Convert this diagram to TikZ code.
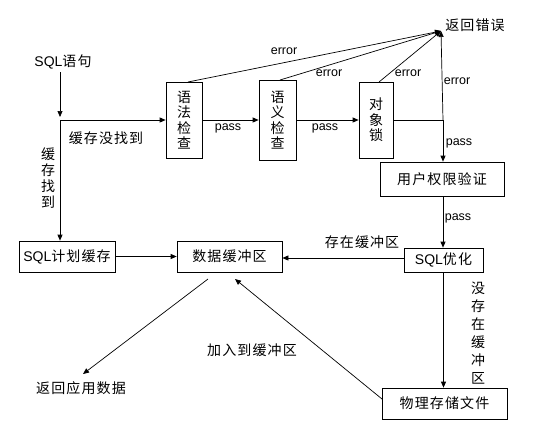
\documentclass[tikz,border=0pt]{standalone}
\usepackage{fontspec}
\setmainfont{Liberation Sans}
\newfontfamily\cjk{Noto Sans CJK SC}[LetterSpace=8]
\usetikzlibrary{arrows.meta,calc}
\begin{document}
\begin{tikzpicture}[x=1pt,y=-1pt,
  box/.style={draw,line width=0.7pt,inner sep=0pt,font=\cjk\fontsize{14}{15.5}\selectfont,align=center},
  lbl/.style={inner sep=0pt,font=\fontsize{12.5}{14}\selectfont},
  cl/.style={inner sep=0pt,font=\cjk\fontsize{14}{16}\selectfont,align=center},
  ln/.style={line width=0.7pt},
  arr/.style={line width=0.7pt,-{Triangle[length=6pt,width=5pt]}}]
\useasboundingbox (0,0) rectangle (535,440);
% boxes
\node[box,minimum width=36pt,minimum height=76pt] (yf) at (184,120) {语\\法\\检\\查};
\node[box,minimum width=37pt,minimum height=80pt] (yy) at (277.5,120) {语\\义\\检\\查};
\node[box,minimum width=34pt,minimum height=76pt] (dx) at (376,120) {对\\象\\锁};
\node[box,minimum width=124pt,minimum height=34pt] (qx) at (442,179) {用户权限验证};
\node[box,minimum width=79pt,minimum height=24pt] (yh) at (443.5,260) {{\fontspec{Liberation Sans}SQL}优化};
\node[box,minimum width=105pt,minimum height=31pt] (sj) at (229.5,256.5) {数据缓冲区};
\node[box,minimum width=96pt,minimum height=31pt] (jh) at (67,256.5) {{\fontspec{Liberation Sans}SQL}计划缓存};
\node[box,minimum width=125pt,minimum height=31pt] (wl) at (444.5,403.5) {物理存储文件};
% free texts
\node[cl] (sql) at (63,62) {{\fontspec{Liberation Sans}SQL}语句};
\node[cl] (err) at (475,25) {返回错误};
\node[cl] (ret) at (81,388) {返回应用数据};
% coordinates
\coordinate (sqlb) at (60,72);
\coordinate (split) at (60,120);
\coordinate (j) at (443,120);
\coordinate (ep) at (441,31);
\coordinate (yft) at (188,82);
\coordinate (yyt) at (280,80);
\coordinate (dxt) at (379,82);
\coordinate (wls) at (382,399);
\coordinate (sjin) at (235,279);
\coordinate (sjout) at (208,279);
\coordinate (rettip) at (83,374);
% connectors
\draw[arr,shorten >=3pt] (sqlb) -- (split);
\draw[arr] (split) -- (yf.west);
\draw[arr] (split) -- (split |- jh.north);
\draw[arr] (yf.east) -- (yy.west);
\draw[arr] (yy.east) -- (dx.west);
\draw[ln] (dx.east) -- (j);
\draw[arr] (j) -- (ep);
\draw[arr] (j) -- (j |- qx.north);
\draw[arr] (yft) -- (ep);
\draw[arr] (yyt) -- (ep);
\draw[arr] (dxt) -- (ep);
\draw[arr] (j |- qx.south) -- (j |- yh.north);
\draw[arr] ($(yh.west)+(0,-2)$) -- ($(yh.west -| sj.east)+(0,-2)$);
\draw[arr] (jh.east) -- (sj.west);
\draw[arr] (yh.south) -- (yh.south |- wl.north);
\draw[arr] (wls) -- (sjin);
\draw[arr] (sjout) -- (rettip);
% labels
\node[cl] (l1) at (106,138) {缓存没找到};
\node[cl,font=\cjk\fontsize{14}{15.7}\selectfont] (l2) at (48,178) {缓\\存\\找\\到};
\node[lbl] (p1) at (228,128) {pass};
\node[lbl] (p2) at (325,128) {pass};
\node[lbl] (e1) at (284,51) {error};
\node[lbl] (e2) at (329,73) {error};
\node[lbl] (e3) at (408,73) {error};
\node[lbl] (e4) at (457,81) {error};
\node[lbl] (p3) at (459,143) {pass};
\node[lbl] (p4) at (458,218) {pass};
\node[cl] (l3) at (362,242) {存在缓冲区};
\node[cl,font=\cjk\fontsize{14}{18}\selectfont] (l4) at (478,333) {没\\存\\在\\缓\\冲\\区};
\node[cl] (l5) at (252,350) {加入到缓冲区};
\end{tikzpicture}
\end{document}
